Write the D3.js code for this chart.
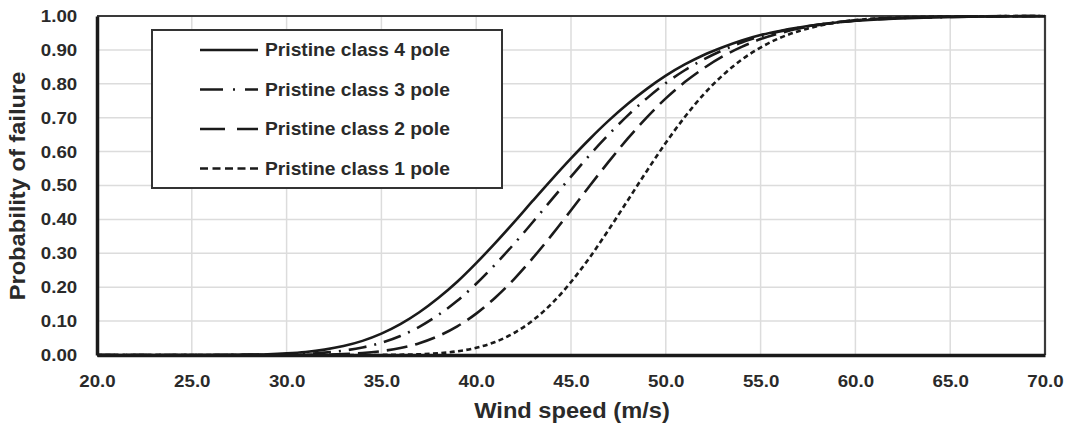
<!DOCTYPE html>
<html>
<head>
<meta charset="utf-8">
<script src="https://cdn.jsdelivr.net/npm/d3@7"></script>
<style>
  html, body { margin: 0; padding: 0; background: #fff; }
  svg { display: block; }
  text { font-family: "Liberation Sans", Arial, sans-serif; font-weight: bold; fill: #2a2a2a; }
</style>
</head>
<body>
<svg id="chart" width="1067" height="428"></svg>
<script>
// ---- Data ----
const windSpeed = [20, 26, 28, 29, 30, 31, 32, 33, 34, 35, 36, 37, 38, 39, 40, 41, 42, 43, 44, 45,
  46, 47, 48, 49, 50, 51, 52, 53, 54, 55, 56, 57, 58, 59, 60, 62, 64, 66, 70];

const class4 = [0, 0.0002, 0.0011, 0.0023,
  0.0048, 0.0089, 0.0158, 0.0264, 0.0417, 0.063, 0.091, 0.126, 0.168, 0.216, 0.271,
  0.330, 0.392, 0.456, 0.519, 0.580, 0.638, 0.692, 0.741, 0.785, 0.824,
  0.857, 0.885, 0.908, 0.928, 0.944, 0.956, 0.966, 0.974, 0.981, 0.986,
  0.992, 0.996, 0.998, 0.999];

const class3 = [0, 0, 0.0003, 0.0007,
  0.0017, 0.0035, 0.007, 0.0128, 0.0222, 0.036, 0.056, 0.083, 0.118, 0.160, 0.210,
  0.267, 0.328, 0.393, 0.460, 0.526, 0.591, 0.651, 0.707, 0.757, 0.802,
  0.840, 0.872, 0.899, 0.922, 0.940, 0.954, 0.965, 0.974, 0.981, 0.986,
  0.993, 0.996, 0.998, 1.0];

const class2 = [0, 0, 0, 0,
  0.0002, 0.0005, 0.0012, 0.0028, 0.0059, 0.0114, 0.0205, 0.0348, 0.0557, 0.0844, 0.122,
  0.169, 0.224, 0.287, 0.355, 0.427, 0.500, 0.571, 0.639, 0.701, 0.757,
  0.805, 0.846, 0.881, 0.909, 0.932, 0.949, 0.963, 0.973, 0.981, 0.987,
  0.994, 0.997, 0.999, 1.0];

const class1 = [0, 0, 0, 0,
  0, 0, 0, 0, 0, 0.0002, 0.0009, 0.0022, 0.0051, 0.0109, 0.0213,
  0.0385, 0.0649, 0.1026, 0.1527, 0.2153, 0.2888, 0.3707, 0.4566, 0.543, 0.626,
  0.702, 0.769, 0.825, 0.871, 0.907, 0.935, 0.955, 0.970, 0.981, 0.988,
  0.995, 0.998, 0.999, 1.0];

const seriesNames = ["Pristine class 4 pole", "Pristine class 3 pole", "Pristine class 2 pole", "Pristine class 1 pole"];
const xTicks = [20, 25, 30, 35, 40, 45, 50, 55, 60, 65, 70];
const yTicks = [0, 0.1, 0.2, 0.3, 0.4, 0.5, 0.6, 0.7, 0.8, 0.9, 1.0];
const xTitle = "Wind speed (m/s)";
const yTitle = "Probability of failure";

// ---- Layout ----
const svg = d3.select("#chart");
const pL = 97, pR = 1045, pT = 16, pB = 355;
const stretch = 1.1;
const x = d3.scaleLinear().domain([20, 70]).range([pL, pR]);
const y = d3.scaleLinear().domain([0, 1]).range([pB, pT]);

// gridlines
svg.append("g").selectAll("line").data(xTicks.slice(1, -1)).join("line")
  .attr("x1", d => x(d)).attr("x2", d => x(d)).attr("y1", pT).attr("y2", pB)
  .attr("stroke", "#dcdcdc").attr("stroke-width", 1.5);
svg.append("g").selectAll("line").data(yTicks.slice(1, -1)).join("line")
  .attr("x1", pL).attr("x2", pR).attr("y1", d => y(d)).attr("y2", d => y(d))
  .attr("stroke", "#dcdcdc").attr("stroke-width", 1.5);

// top & right frame
svg.append("path")
  .attr("d", `M${pL},${pT}H${pR}V${pB}`)
  .attr("fill", "none").attr("stroke", "#3a3a3a").attr("stroke-width", 2.2);

// legend box (drawn beneath curves)
const lg = svg.append("g");
lg.append("rect").attr("x", 152).attr("y", 30).attr("width", 350).attr("height", 158)
  .attr("fill", "#fff").attr("stroke", "#333").attr("stroke-width", 2);

// curves
const styles = [
  { data: class4, dash: null },
  { data: class3, dash: "18,8,2,8" },
  { data: class2, dash: "21,8" },
  { data: class1, dash: "5,3.4" }
];
const line = d3.line().x((d, i) => x(windSpeed[i])).y(d => y(d)).curve(d3.curveMonotoneX);
styles.forEach(s => {
  svg.append("path").datum(s.data)
    .attr("d", line)
    .attr("fill", "none").attr("stroke", "#1a1a1a").attr("stroke-width", 2.6)
    .attr("stroke-dasharray", s.dash);
});

// axes with d3
const xAxis = d3.axisBottom(x).tickValues(xTicks).tickFormat(d3.format(".1f")).tickSize(0).tickPadding(20);
const yAxis = d3.axisLeft(y).tickValues(yTicks).tickFormat(d3.format(".2f")).tickSize(0).tickPadding(18);

const gx = svg.append("g").attr("transform", `translate(0,${pB})`).call(xAxis);
gx.select(".domain").attr("stroke", "#1a1a1a").attr("stroke-width", 3.5);
gx.selectAll("text").attr("font-size", 17).attr("fill", "#2a2a2a")
  .attr("font-family", "'Liberation Sans', Arial, sans-serif").attr("font-weight", "bold")
  .attr("transform", `scale(${stretch},1)`);

const gy = svg.append("g").attr("transform", `translate(${pL},0)`).call(yAxis);
gy.select(".domain").attr("stroke", "#1a1a1a").attr("stroke-width", 3.5);
gy.selectAll("text").attr("font-size", 17).attr("fill", "#2a2a2a")
  .attr("font-family", "'Liberation Sans', Arial, sans-serif").attr("font-weight", "bold")
  .attr("transform", `scale(${stretch},1)`);

// legend entries
const legendDashes = [null, "23,10,2,10,13", "25,12,21", "8,4.5"];
const legendRows = [50, 89.5, 129, 168.5];
seriesNames.forEach((name, i) => {
  const yy = legendRows[i];
  lg.append("line").attr("x1", 200).attr("x2", 258).attr("y1", yy).attr("y2", yy)
    .attr("stroke", "#1a1a1a").attr("stroke-width", 2.6)
    .attr("stroke-dasharray", legendDashes[i]);
  lg.append("text").attr("transform", `translate(265,${yy}) scale(${stretch},1)`)
    .attr("dy", "0.35em").attr("font-size", 17.5).text(name);
});

// axis titles
svg.append("text").attr("transform", `translate(${(pL + pR) / 2 + 1},418) scale(${stretch},1)`)
  .attr("text-anchor", "middle").attr("font-size", 21.5).text(xTitle);
svg.append("text").attr("transform", `translate(25,186) rotate(-90) scale(${stretch},1)`)
  .attr("text-anchor", "middle").attr("font-size", 21.5).text(yTitle);
</script>
</body>
</html>
